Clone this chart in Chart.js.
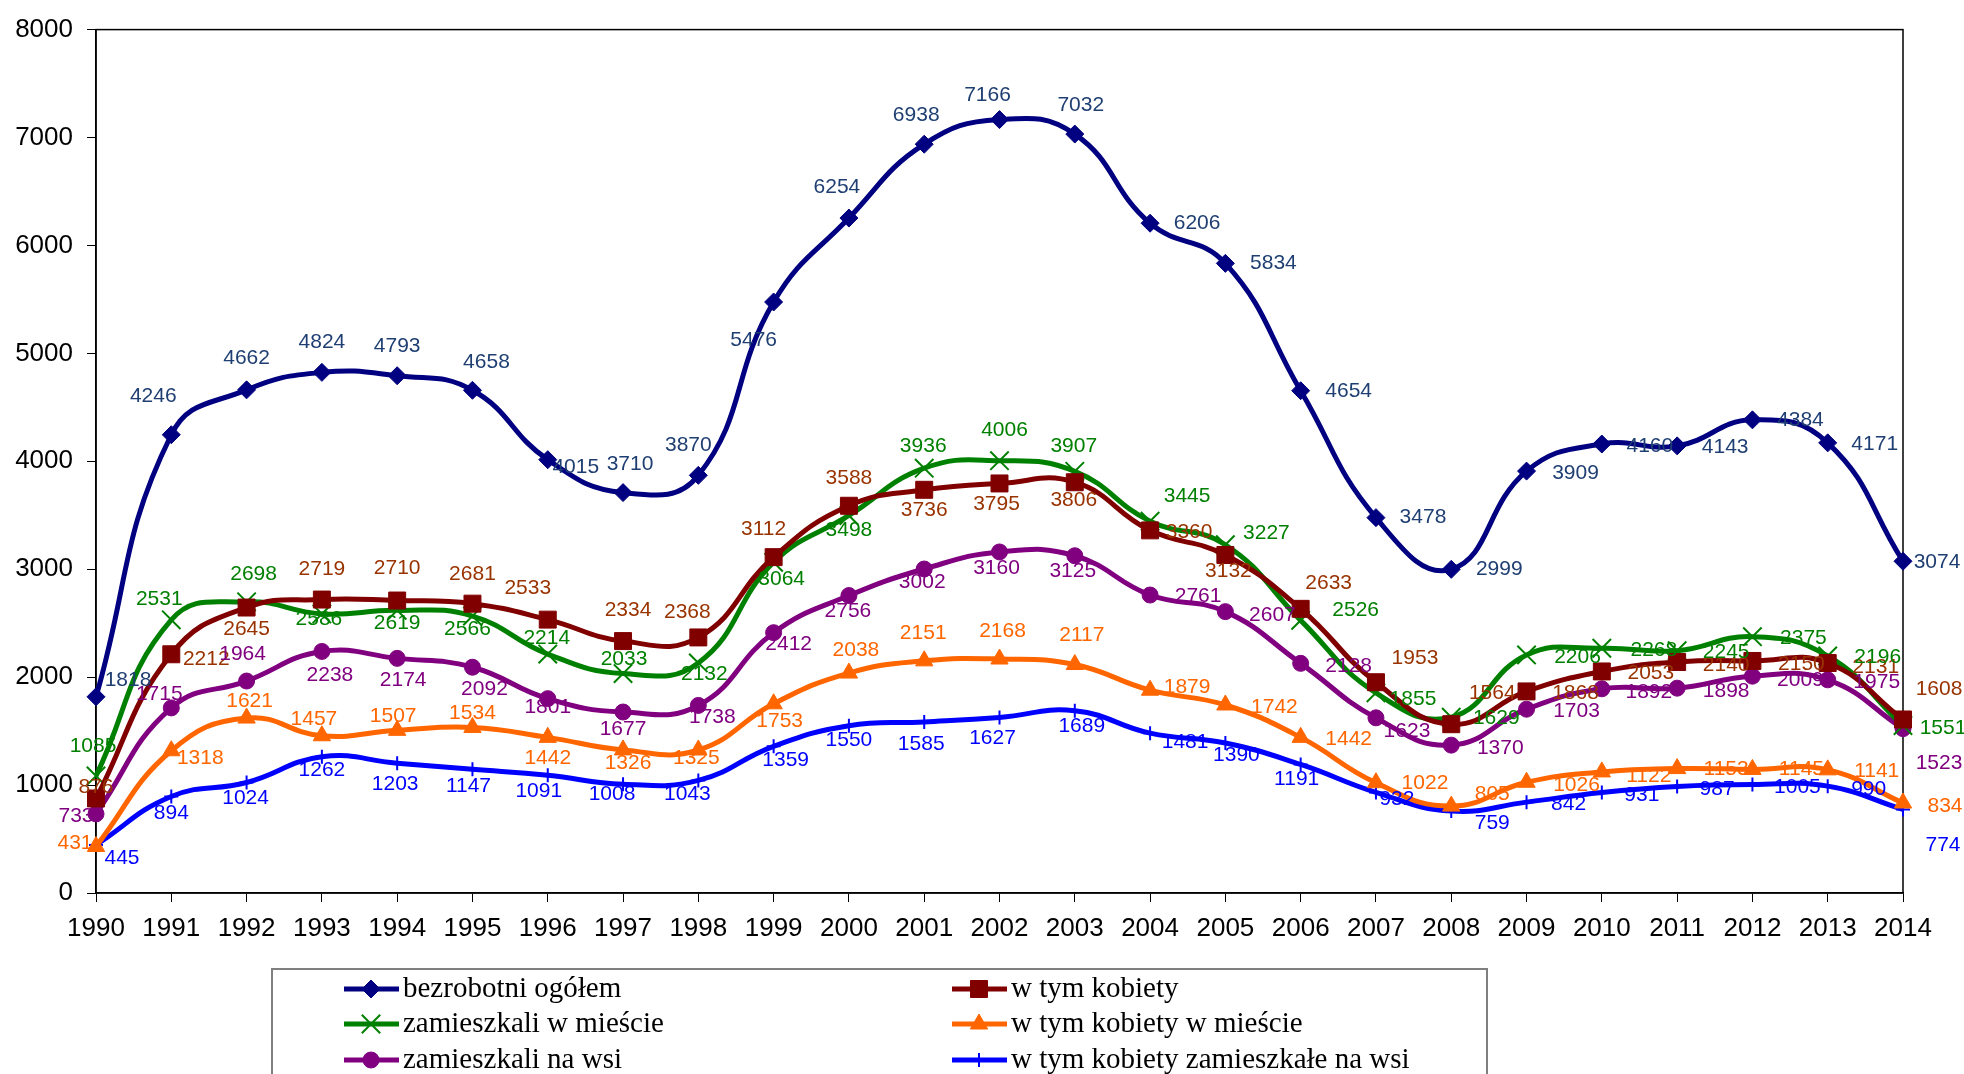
<!DOCTYPE html>
<html lang="pl">
<head>
<meta charset="UTF-8">
<title>Bezrobotni 1990-2014</title>
<script src="https://cdn.jsdelivr.net/npm/chart.js"></script>
<style>
  html, body { margin: 0; padding: 0; background: #fff; }
  canvas { display: block; }
</style>
</head>
<body>
<canvas id="unemploymentChart" width="1964" height="1074"></canvas>
<script>
  // dane
  const years = ["1990", "1991", "1992", "1993", "1994", "1995", "1996", "1997", "1998", "1999", "2000", "2001", "2002",
    "2003", "2004", "2005", "2006", "2007", "2008", "2009", "2010", "2011", "2012", "2013", "2014"];
  const totalUnemployed = [1818, 4246, 4662, 4824, 4793, 4658, 4015, 3710, 3870, 5476, 6254, 6938, 7166,
    7032, 6206, 5834, 4654, 3478, 2999, 3909, 4160, 4143, 4384, 4171, 3074];
  const women = [876, 2212, 2645, 2719, 2710, 2681, 2533, 2334, 2368, 3112, 3588, 3736, 3795,
    3806, 3360, 3132, 2633, 1953, 1564, 1868, 2053, 2140, 2150, 2131, 1608];
  const cityResidents = [1085, 2531, 2698, 2586, 2619, 2566, 2214, 2033, 2132, 3064, 3498, 3936, 4006,
    3907, 3445, 3227, 2526, 1855, 1629, 2206, 2268, 2245, 2375, 2196, 1551];
  const cityWomen = [431, 1318, 1621, 1457, 1507, 1534, 1442, 1326, 1325, 1753, 2038, 2151, 2168,
    2117, 1879, 1742, 1442, 1022, 805, 1026, 1122, 1153, 1145, 1141, 834];
  const ruralResidents = [733, 1715, 1964, 2238, 2174, 2092, 1801, 1677, 1738, 2412, 2756, 3002, 3160,
    3125, 2761, 2607, 2128, 1623, 1370, 1703, 1892, 1898, 2009, 1975, 1523];
  const ruralWomen = [445, 894, 1024, 1262, 1203, 1147, 1091, 1008, 1043, 1359, 1550, 1585, 1627,
    1689, 1481, 1390, 1191, 932, 759, 842, 931, 987, 1005, 990, 774];
  const yTicks = [0, 1000, 2000, 3000, 4000, 5000, 6000, 7000, 8000];

  // przesunięcia etykiet danych względem punktów [dx, dy]
  const labelOffsets = [
    [[32,-17],[-18,-39],[0,-32],[0,-30],[0,-30],[14,-28],[28,8],[7,-28],[-10,-30],[-20,38],[-12,-31],[-8,-29],[-12,-24],
     [6,-29],[47,0],[48,0],[48,0],[47,0],[48,0],[49,2],[48,2],[48,1],[48,0],[47,1],[34,1]],
    [[0,-11],[35,5],[0,22],[0,-30],[0,-32],[0,-29],[-20,-31],[5,-31],[-11,-25],[-10,-28],[0,-28],[0,20],[-3,21],
     [-1,18],[39,2],[3,16],[28,-26],[39,-24],[41,-31],[49,2],[49,2],[49,3],[49,3],[48,4],[36,-30]],
    [[-3,-30],[-12,-21],[7,-28],[-3,5],[0,13],[-5,13],[-1,-16],[1,-14],[6,11],[8,17],[0,15],[-1,-22],[5,-30],
     [-1,-25],[37,-25],[41,-12],[55,-10],[37,6],[45,1],[51,2],[52,2],[49,1],[51,2],[50,1],[40,3]],
    [[-21,-3],[29,7],[3,-17],[-8,-17],[-4,-14],[0,-14],[0,21],[5,13],[-2,8],[6,17],[7,-23],[-1,-28],[3,-28],
     [7,-29],[37,-3],[49,2],[48,2],[49,1],[41,-12],[50,3],[47,4],[49,1],[49,0],[49,1],[42,3]],
    [[-20,2],[-12,-14],[-4,-27],[8,24],[6,22],[12,22],[0,9],[0,17],[14,12],[15,12],[-1,16],[-2,13],[-3,16],
     [-2,15],[48,1],[47,4],[48,3],[31,13],[49,3],[50,2],[47,3],[49,3],[48,4],[49,2],[36,35]],
    [[26,13],[0,17],[-1,16],[0,13],[-2,21],[-4,17],[-9,16],[-11,10],[-11,14],[12,14],[0,14],[-3,22],[-7,21],
     [7,15],[35,9],[11,12],[-4,15],[21,7],[41,12],[42,2],[40,3],[40,3],[45,3],[41,3],[40,36]]
  ];
  const labelColors = ["#1f3f73", "#993300", "#008000", "#ff6600", "#800080", "#0000ff"];

  const sansFont = "'Liberation Sans', Arial, sans-serif";
  const serifFont = "'Liberation Serif', 'Times New Roman', serif";

  function series(label, data, color, style, radius, borderWidth) {
    return {
      label: label,
      data: data,
      borderColor: color,
      backgroundColor: color,
      pointBackgroundColor: color,
      pointBorderColor: color,
      pointStyle: style,
      pointRadius: radius,
      pointHoverRadius: radius,
      pointBorderWidth: borderWidth,
      borderWidth: 5,
      tension: 0.45,
      fill: false
    };
  }

  const datasets = [
    series("bezrobotni ogółem", totalUnemployed, "#000080", "rectRot", 9, 1),
    series("w tym kobiety", women, "#800000", "rect", 12, 1),
    series("zamieszkali w mieście", cityResidents, "#008000", "crossRot", 13, 2),
    series("w tym kobiety w mieście", cityWomen, "#ff6600", "triangle", 10, 1),
    series("zamieszkali na wsi", ruralResidents, "#800080", "circle", 8, 1),
    series("w tym kobiety zamieszkałe na wsi", ruralWomen, "#0000ff", "cross", 7, 2)
  ];

  const extras = {
    id: "extras",
    beforeDatasetsDraw(chart) {
      const ctx = chart.ctx;
      const a = chart.chartArea;
      ctx.save();
      ctx.strokeStyle = "#000";
      ctx.lineWidth = 1.5;
      ctx.strokeRect(a.left, a.top, a.right - a.left, a.bottom - a.top);
      ctx.restore();
    },
    afterDatasetsDraw(chart) {
      const ctx = chart.ctx;
      ctx.save();
      ctx.font = "21px " + sansFont;
      ctx.textAlign = "center";
      ctx.textBaseline = "middle";
      chart.data.datasets.forEach((ds, i) => {
        const meta = chart.getDatasetMeta(i);
        ctx.fillStyle = labelColors[i];
        meta.data.forEach((pt, j) => {
          const off = labelOffsets[i][j];
          ctx.fillText(String(ds.data[j]), pt.x + off[0], pt.y + off[1]);
        });
      });
      ctx.restore();
    },
    afterDraw(chart) {
      const ctx = chart.ctx;
      ctx.save();
      // ramka legendy
      ctx.strokeStyle = "#7f7f7f";
      ctx.lineWidth = 2;
      ctx.strokeRect(272, 969, 1215, 200);
      const colX = [344, 952];
      const rowY = [989, 1024, 1060];
      chart.data.datasets.forEach((ds, i) => {
        const x = colX[i % 2];
        const y = rowY[Math.floor(i / 2)];
        ctx.strokeStyle = ds.borderColor;
        ctx.lineWidth = 5;
        ctx.beginPath();
        ctx.moveTo(x, y);
        ctx.lineTo(x + 55, y);
        ctx.stroke();
        ctx.fillStyle = ds.pointBackgroundColor;
        ctx.strokeStyle = ds.pointBorderColor;
        ctx.lineWidth = ds.pointBorderWidth;
        Chart.helpers.drawPoint(ctx, {
          pointStyle: ds.pointStyle,
          radius: ds.pointRadius,
          borderWidth: ds.pointBorderWidth,
          rotation: 0
        }, x + 27, y);
        ctx.fillStyle = "#000";
        ctx.font = "29px " + serifFont;
        ctx.textAlign = "left";
        ctx.textBaseline = "middle";
        ctx.fillText(ds.label, x + 59, y);
      });
      ctx.restore();
    }
  };

  new Chart(document.getElementById("unemploymentChart"), {
    type: "line",
    data: { labels: years, datasets: datasets },
    options: {
      responsive: false,
      animation: false,
      events: [],
      layout: { padding: { left: 0, right: 61, top: 23, bottom: 121 } },
      plugins: {
        legend: { display: false },
        tooltip: { enabled: false }
      },
      scales: {
        x: {
          type: "category",
          offset: false,
          grid: { drawOnChartArea: false, drawTicks: true, tickLength: 9, color: "#000" },
          border: { display: true, color: "#000", width: 1.5 },
          ticks: {
            autoSkip: false,
            maxRotation: 0,
            padding: 11,
            color: "#000",
            font: { family: sansFont, size: 26 }
          },
          afterFit(scale) { scale.height = 60; }
        },
        y: {
          min: 0,
          max: 8000,
          afterBuildTicks(scale) { scale.ticks = yTicks.map(v => ({ value: v })); },
          grid: { drawOnChartArea: false, drawTicks: true, tickLength: 9, color: "#000" },
          border: { display: true, color: "#000", width: 1.5 },
          ticks: {
            padding: 14,
            color: "#000",
            font: { family: sansFont, size: 26 },
            callback: (value) => String(value)
          },
          afterFit(scale) { scale.width = 96; }
        }
      }
    },
    plugins: [extras]
  });
</script>
</body>
</html>
